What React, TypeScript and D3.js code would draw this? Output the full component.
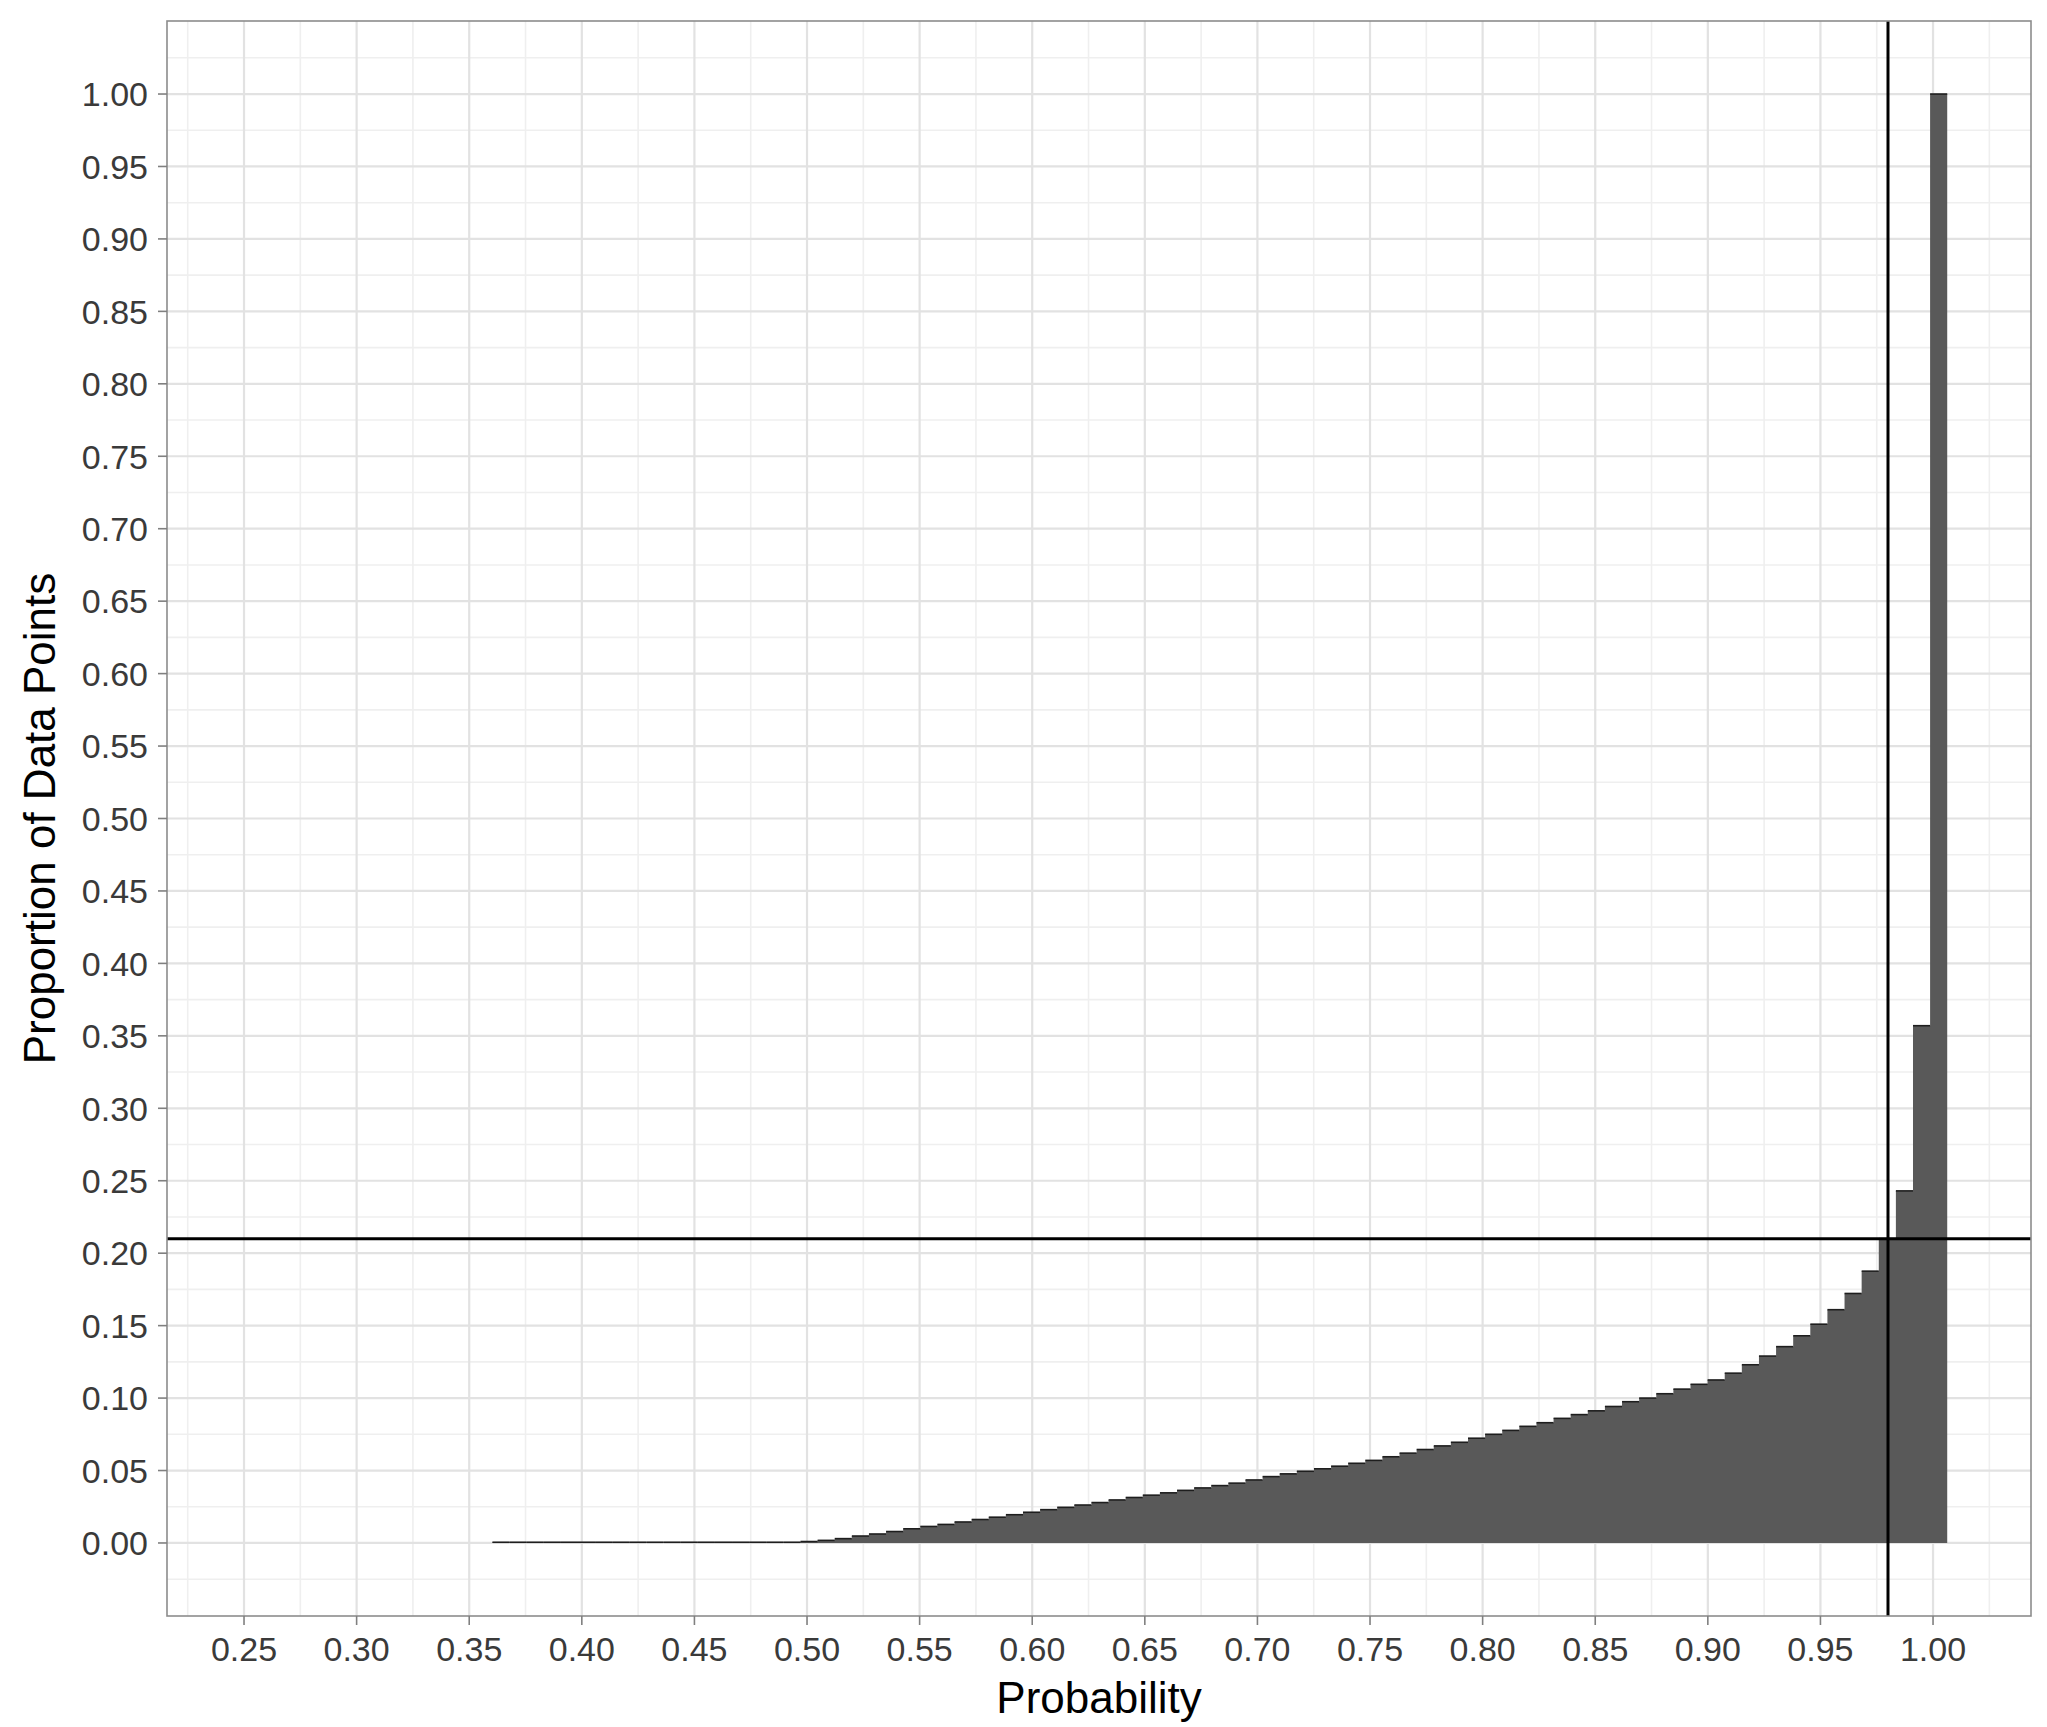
import React from "react";
import * as d3 from "d3";

// ---- data ----
const binStart = 0.3603;
const binWidth = 0.0076;
const proportions = [
  0.0005, 0.0005, 0.0005, 0.0005, 0.0005, 0.0005, 0.0005, 0.0005, 0.0005,
  0.0005, 0.0005, 0.0005, 0.0005, 0.0005, 0.0005, 0.0005, 0.0005, 0.0005,
  0.001, 0.0018, 0.003, 0.0048, 0.0062, 0.0079, 0.0098, 0.0114, 0.0128,
  0.0145, 0.0162, 0.0178, 0.0195, 0.0212, 0.023, 0.0246, 0.0262, 0.0279,
  0.0297, 0.0314, 0.033, 0.0346, 0.0363, 0.038, 0.0396, 0.0413, 0.0435,
  0.0458, 0.0477, 0.0495, 0.0512, 0.053, 0.055, 0.057, 0.0595, 0.062,
  0.0645, 0.067, 0.0695, 0.0723, 0.075, 0.0777, 0.0805, 0.083, 0.086,
  0.0886, 0.0912, 0.0942, 0.0975, 0.1, 0.103, 0.1062, 0.1095, 0.1125,
  0.1172, 0.123, 0.129, 0.1355, 0.143, 0.151, 0.161, 0.1722, 0.1876,
  0.21, 0.243, 0.357, 1.0,
];
const vLineX = 0.98;
const hLineY = 0.21;

const xTicks = [0.25, 0.3, 0.35, 0.4, 0.45, 0.5, 0.55, 0.6, 0.65, 0.7, 0.75, 0.8, 0.85, 0.9, 0.95, 1.0];
const xTickLabels = ["0.25", "0.30", "0.35", "0.40", "0.45", "0.50", "0.55", "0.60", "0.65", "0.70", "0.75", "0.80", "0.85", "0.90", "0.95", "1.00"];
const yTicks = [0, 0.05, 0.1, 0.15, 0.2, 0.25, 0.3, 0.35, 0.4, 0.45, 0.5, 0.55, 0.6, 0.65, 0.7, 0.75, 0.8, 0.85, 0.9, 0.95, 1.0];
const yTickLabels = ["0.00", "0.05", "0.10", "0.15", "0.20", "0.25", "0.30", "0.35", "0.40", "0.45", "0.50", "0.55", "0.60", "0.65", "0.70", "0.75", "0.80", "0.85", "0.90", "0.95", "1.00"];
const xTitle = "Probability";
const yTitle = "Proportion of Data Points";

// ---- layout ----
const W = 2047;
const H = 1727;
const PL = 167, PR = 2031, PT = 21, PB = 1616;
const FONT = "'Liberation Sans', Arial, Helvetica, sans-serif";

export default function App() {
  const x = d3.scaleLinear().domain([0.2158, 1.0435]).range([PL, PR]);
  const y = d3.scaleLinear().domain([-0.0504, 1.0504]).range([PB, PT]);

  const xMinor = xTicks.map((t) => t - 0.025).concat([xTicks[xTicks.length - 1] + 0.025]);
  const yMinor = yTicks.map((t) => t - 0.025).concat([yTicks[yTicks.length - 1] + 0.025]);

  const bins = proportions.map((v, i) => ({
    x0: binStart + i * binWidth,
    x1: binStart + (i + 1) * binWidth,
    v,
  }));

  // single stepped area so there are no seams between bars
  const pts: [number, number][] = bins.map((b) => [b.x0, b.v]);
  pts.push([bins[bins.length - 1].x1, bins[bins.length - 1].v]);
  const areaGen = d3
    .area<[number, number]>()
    .x((d) => x(d[0]))
    .y0(y(0))
    .y1((d) => y(d[1]))
    .curve(d3.curveStepAfter);

  const tickLen = 9;

  return (
    <svg
      width={W}
      height={H}
      style={{ position: "absolute", left: 0, top: 0, background: "#fff" }}
      fontFamily={FONT}
    >
      <rect x={0} y={0} width={W} height={H} fill="#fff" />
      {/* minor grid */}
      <g stroke="#efefef" strokeWidth={1.6}>
        {xMinor.map((t, i) => (
          <line key={"xm" + i} x1={x(t)} x2={x(t)} y1={PT} y2={PB} />
        ))}
        {yMinor.map((t, i) => (
          <line key={"ym" + i} x1={PL} x2={PR} y1={y(t)} y2={y(t)} />
        ))}
      </g>
      {/* major grid */}
      <g stroke="#e2e2e2" strokeWidth={2.2}>
        {xTicks.map((t, i) => (
          <line key={"xM" + i} x1={x(t)} x2={x(t)} y1={PT} y2={PB} />
        ))}
        {yTicks.map((t, i) => (
          <line key={"yM" + i} x1={PL} x2={PR} y1={y(t)} y2={y(t)} />
        ))}
      </g>
      {/* histogram */}
      <path d={areaGen(pts) || ""} fill="#595959" />
      {/* darker top edges */}
      <g stroke="#1e1e1e" strokeWidth={1.6}>
        {bins.map((b, i) => (
          <line key={"t" + i} x1={x(b.x0)} x2={x(b.x1)} y1={y(b.v)} y2={y(b.v)} />
        ))}
      </g>
      {/* reference lines */}
      <line x1={PL} x2={PR} y1={y(hLineY)} y2={y(hLineY)} stroke="#000" strokeWidth={3} />
      <line x1={x(vLineX)} x2={x(vLineX)} y1={PT} y2={PB} stroke="#000" strokeWidth={3} />
      {/* panel border */}
      <rect x={PL} y={PT} width={PR - PL} height={PB - PT} fill="none" stroke="#8c8c8c" strokeWidth={1.6} />
      {/* x axis */}
      <g>
        {xTicks.map((t, i) => (
          <g key={"xt" + i}>
            <line x1={x(t)} x2={x(t)} y1={PB} y2={PB + tickLen} stroke="#808080" strokeWidth={1.6} />
            <text x={x(t)} y={1661} textAnchor="middle" fontSize={34} fill="#3a3a3a">
              {xTickLabels[i]}
            </text>
          </g>
        ))}
      </g>
      {/* y axis */}
      <g>
        {yTicks.map((t, i) => (
          <g key={"yt" + i}>
            <line x1={PL - tickLen} x2={PL} y1={y(t)} y2={y(t)} stroke="#808080" strokeWidth={1.6} />
            <text x={148} y={y(t)} dy="0.36em" textAnchor="end" fontSize={34} fill="#3a3a3a">
              {yTickLabels[i]}
            </text>
          </g>
        ))}
      </g>
      {/* titles */}
      <text x={(PL + PR) / 2} y={1713} textAnchor="middle" fontSize={44} fill="#000">
        {xTitle}
      </text>
      <text
        transform={`translate(55, ${(PT + PB) / 2}) rotate(-90)`}
        textAnchor="middle"
        fontSize={44}
        fill="#000"
      >
        {yTitle}
      </text>
    </svg>
  );
}
